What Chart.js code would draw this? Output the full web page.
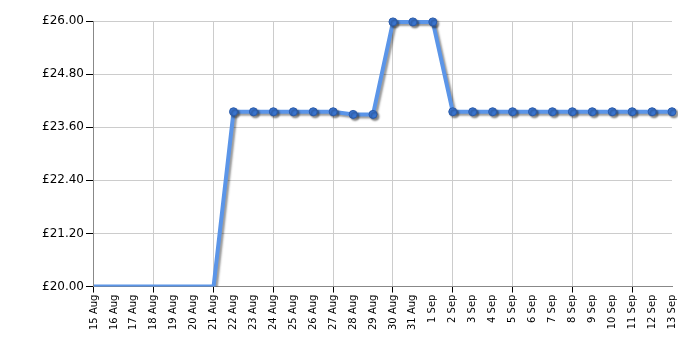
<!DOCTYPE html>
<html>
<head>
<meta charset="utf-8">
<script src="https://cdn.jsdelivr.net/npm/chart.js@4"></script>
<style>
  html, body { margin: 0; padding: 0; background: #fff; }
  #wrap { width: 700px; height: 350px; }
</style>
</head>
<body>
<div id="wrap"><canvas id="price"></canvas></div>
<script>
const days = ['15 Aug', '16 Aug', '17 Aug', '18 Aug', '19 Aug', '20 Aug', '21 Aug', '22 Aug', '23 Aug', '24 Aug',
              '25 Aug', '26 Aug', '27 Aug', '28 Aug', '29 Aug', '30 Aug', '31 Aug', '1 Sep', '2 Sep', '3 Sep',
              '4 Sep', '5 Sep', '6 Sep', '7 Sep', '8 Sep', '9 Sep', '10 Sep', '11 Sep', '12 Sep', '13 Sep'];
const prices = [20.00, 20.00, 20.00, 20.00, 20.00, 20.00, 20.00, 23.95, 23.95, 23.95,
                23.95, 23.95, 23.95, 23.89, 23.89, 25.98, 25.98, 25.98, 23.95, 23.95,
                23.95, 23.95, 23.95, 23.95, 23.95, 23.95, 23.95, 23.95, 23.95, 23.95];
const y_min = 20.00;
const y_max = 26.00;
const y_step = 1.20;

// soft grey drop shadow under the line, like the original
const shadowPlugin = {
    id: 'lineShadow',
    beforeDatasetDraw(chart) {
        var ctx = chart.ctx;
        ctx.save();
        ctx.shadowColor = 'rgba(0, 0, 0, 0.4)';
        ctx.shadowOffsetX = 2;
        ctx.shadowOffsetY = 2;
        ctx.shadowBlur = 2;
    },
    afterDatasetDraw(chart) {
        chart.ctx.restore();
    }
};

function everyThird(ctx, on, off) {
    return ctx.index % 3 === 0 ? on : off;
}

var ctx = document.getElementById('price').getContext('2d');
new Chart(ctx, {
    type: 'line',
    data: {
        labels: days,
        datasets: [{
            data: prices,
            borderColor: '#5b95e8',
            borderWidth: 4,
            tension: 0,
            clip: { left: 0, top: 6, right: 6, bottom: 0 },
            pointRadius: function(c) { return c.raw <= y_min ? 0 : 4; },
            pointHoverRadius: 4,
            pointBackgroundColor: '#3a75d0',
            pointBorderColor: '#2a5aa8',
            pointBorderWidth: 1
        }]
    },
    options: {
        responsive: true,
        maintainAspectRatio: false,
        animation: false,
        events: [],
        layout: { padding: { top: 21, right: 28, left: 40, bottom: 18 } },
        plugins: {
            legend: { display: false },
            tooltip: { enabled: false }
        },
        scales: {
            x: {
                offset: false,
                border: { color: '#888888', width: 1 },
                grid: {
                    color: function(c) { return everyThird(c, '#cccccc', 'rgba(0,0,0,0)'); },
                    tickColor: function(c) { return everyThird(c, '#000000', 'rgba(0,0,0,0)'); },
                    tickLength: 6
                },
                ticks: {
                    autoSkip: false,
                    maxRotation: 90,
                    minRotation: 90,
                    padding: 2,
                    color: '#000',
                    font: { family: 'DejaVu Sans', size: 10 }
                }
            },
            y: {
                min: y_min,
                max: y_max,
                border: { color: '#888888', width: 1 },
                grid: {
                    color: '#cccccc',
                    tickColor: '#000000',
                    tickLength: 8
                },
                ticks: {
                    stepSize: y_step,
                    padding: 2,
                    color: '#000',
                    font: { family: 'DejaVu Sans', size: 12 },
                    callback: function(v) { return '£' + Number(v).toFixed(2); }
                }
            }
        }
    },
    plugins: [shadowPlugin]
});
</script>
</body>
</html>
